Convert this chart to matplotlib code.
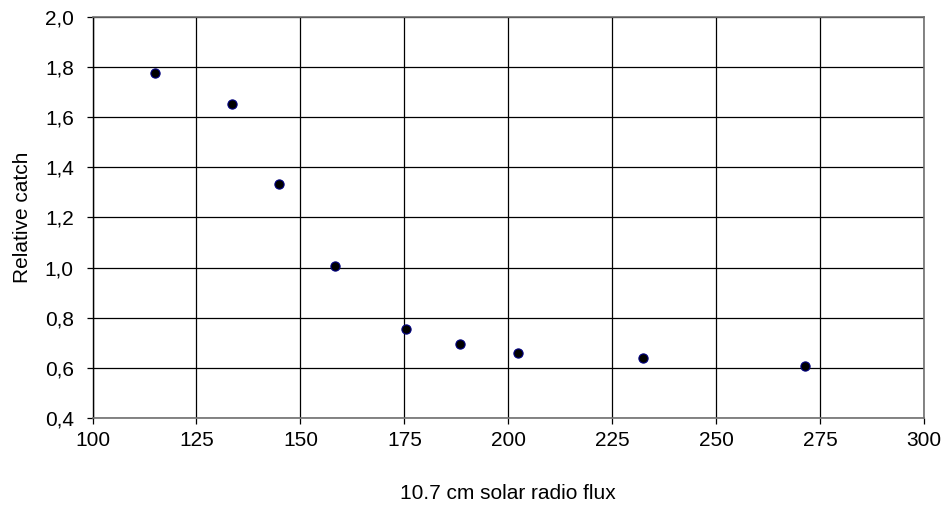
import matplotlib.pyplot as plt
from matplotlib.ticker import FuncFormatter

flux = [115.0, 133.5, 144.8, 158.3, 175.3, 188.5, 202.3, 232.3, 271.3]
catch = [1.779, 1.652, 1.333, 1.008, 0.753, 0.695, 0.660, 0.639, 0.608]

x_ticks = [100, 125, 150, 175, 200, 225, 250, 275, 300]
y_ticks = [0.4, 0.6, 0.8, 1.0, 1.2, 1.4, 1.6, 1.8, 2.0]

plt.rcParams['font.family'] = ['Liberation Sans', 'DejaVu Sans']

W, H = 947, 508
left, right, top, bottom = 92.5, 924, 17.3, 417.7

fig = plt.figure(figsize=(W / 100, H / 100), dpi=100)
ax = fig.add_axes([left / W, 1 - bottom / H, (right - left) / W, (bottom - top) / H])

ax.scatter(flux, catch, s=44, color="black", edgecolors="#000080", linewidths=0.8, zorder=3)

ax.set_xlim(100, 300)
ax.set_ylim(0.4, 2.0)
ax.set_xticks(x_ticks)
ax.set_yticks(y_ticks)
ax.yaxis.set_major_formatter(FuncFormatter(lambda v, p: f"{v:.1f}".replace(".", ",")))

ax.grid(True, color="black", linewidth=0.9)
ax.set_axisbelow(True)
for s in ax.spines.values():
    s.set_color("#707070")
    s.set_linewidth(1.2)
ax.spines["left"].set_color("black")
ax.spines["left"].set_linewidth(1.0)

ax.tick_params(axis="both", direction="out", length=4.5, width=0.9, labelsize=15)
ax.tick_params(axis="x", pad=5)
ax.tick_params(axis="y", pad=9)

ax.set_xlabel("10.7 cm solar radio flux", fontsize=15, va="baseline")
ax.set_ylabel("Relative catch", fontsize=15, va="center")
ax.xaxis.set_label_coords(0.5, (bottom - 499) / (bottom - top))
ax.yaxis.set_label_coords((23 - left) / (right - left), 0.5)

fig.savefig("out.png", dpi=100)
